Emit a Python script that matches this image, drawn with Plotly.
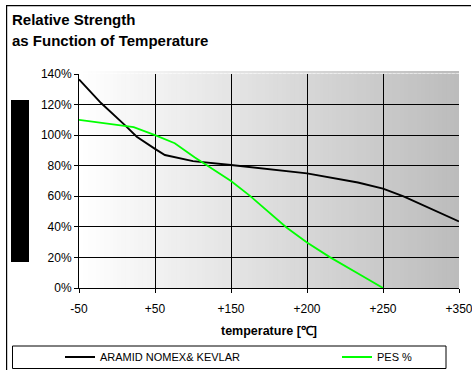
import plotly.graph_objects as go

# ---- data ----
categories = ["-50", "+50", "+150", "+200", "+250", "+350"]
aramid_pos = [0, 0.29, 0.6, 0.76, 1.0, 1.13, 1.5, 2.0, 3.0, 3.67, 4.0, 4.27, 5.0]
aramid_val = [136.5, 121, 106.7, 99, 91, 87, 83, 80.5, 75, 69, 65, 60, 43.5]
pes_pos = [0, 0.29, 0.72, 1.0, 1.26, 1.52, 2.0, 2.25, 2.73, 3.0, 3.3, 3.7, 4.0]
pes_val = [110, 108, 105.3, 100, 94.7, 85.6, 70, 60.3, 39.6, 29.8, 20.2, 8.7, 0]
series_names = ["ARAMID NOMEX& KEVLAR", "PES %"]
y_ticks = [0, 20, 40, 60, 80, 100, 120, 140]

# ---- geometry ----
W, H = 472, 370
ML, MR, MT, MB = 79, 13, 74, 82
PW, PH = W - ML - MR, H - MT - MB


def px(x):
    return (x - ML) / PW


def py(y):
    return (H - MB - y) / PH


FONT = "Liberation Sans, Arial, sans-serif"

fig = go.Figure()
fig.add_trace(go.Scatter(x=aramid_pos, y=aramid_val, mode="lines", name=series_names[0],
                         line=dict(color="#000000", width=1.9), legend="legend"))
fig.add_trace(go.Scatter(x=pes_pos, y=pes_val, mode="lines", name=series_names[1],
                         line=dict(color="#00ff00", width=1.8), legend="legend2"))

shapes = []
# gradient background (white -> gray), drawn under the gridlines
N = 90


def grey(t):
    c = round(255 - t * (255 - 188))
    return f"rgb({c},{c},{c})"


for i in range(N):
    t = i / (N - 1)
    shapes.append(dict(type="rect", xref="x domain", yref="y domain",
                       x0=i / N, x1=min(1, (i + 1) / N + 0.004), y0=0, y1=1,
                       fillcolor=grey(t), line=dict(width=0), layer="below"))
    # thin strip above the top gridline
    shapes.append(dict(type="rect", xref="paper", yref="paper",
                       x0=i / N, x1=min(1, (i + 1) / N + 0.004), y0=1 + 0.6 / PH, y1=1 + 3 / PH,
                       fillcolor=grey(t), line=dict(width=0), layer="below"))
# black box on the left
shapes.append(dict(type="rect", xref="paper", yref="paper", x0=px(11), x1=px(29),
                   y0=py(262), y1=py(100), fillcolor="#000000", line=dict(width=0)))
# outer border (left + top) as thin filled bars
shapes.append(dict(type="rect", xref="paper", yref="paper",
                   x0=px(6), x1=px(7.2), y0=py(370), y1=py(5),
                   fillcolor="#000000", line=dict(width=0)))
shapes.append(dict(type="rect", xref="paper", yref="paper",
                   x0=px(6), x1=px(471), y0=py(6.2), y1=py(5),
                   fillcolor="#000000", line=dict(width=0)))
# legend frame
shapes.append(dict(type="rect", xref="paper", yref="paper", x0=px(12.5), x1=px(446),
                   y0=py(368.5), y1=py(346), fillcolor="rgba(0,0,0,0)",
                   line=dict(color="#000000", width=1)))

annotations = [
    dict(text="<b>Relative Strength</b>", xref="paper", yref="paper", x=px(10), y=py(19),
         xanchor="left", yanchor="middle", showarrow=False,
         font=dict(family=FONT, size=15, color="#000000")),
    dict(text="<b>as Function of Temperature</b>", xref="paper", yref="paper", x=px(10), y=py(40),
         xanchor="left", yanchor="middle", showarrow=False,
         font=dict(family=FONT, size=15, color="#000000")),
]

legend_common = dict(orientation="h", yanchor="middle", xanchor="left",
                     bgcolor="rgba(0,0,0,0)", borderwidth=0,
                     font=dict(family=FONT, size=11, color="#000000"))

fig.update_layout(
    width=W, height=H,
    margin=dict(l=ML, r=MR, t=MT, b=MB, pad=0, autoexpand=False),
    paper_bgcolor="#ffffff", plot_bgcolor="rgba(0,0,0,0)",
    font=dict(family=FONT, size=12, color="#000000"),
    shapes=shapes, annotations=annotations,
    showlegend=True,
    legend=dict(x=px(60), y=py(357), **legend_common),
    legend2=dict(x=px(337), y=py(357), **legend_common),
)
fig.update_xaxes(range=[0, 5], tickvals=list(range(len(categories))), ticktext=categories,
                 showgrid=True, gridcolor="#000000", gridwidth=1,
                 showline=True, linecolor="#000000", linewidth=1,
                 ticks="outside", ticklen=4, tickcolor="#000000", zeroline=False,
                 ticklabeloverflow="allow", automargin=False, ticklabelstandoff=6,
                 tickfont=dict(family=FONT, size=12, color="#000000"),
                 title=dict(text="<b>temperature [℃]</b>", standoff=10,
                            font=dict(family=FONT, size=12.5, color="#000000")))
fig.update_yaxes(range=[0, 140], tickvals=y_ticks, ticktext=[f"{v}%" for v in y_ticks],
                 showgrid=True, gridcolor="#000000", gridwidth=1,
                 showline=True, linecolor="#000000", linewidth=1,
                 ticks="outside", ticklen=4, tickcolor="#000000", zeroline=False,
                 automargin=False,
                 tickfont=dict(family=FONT, size=12, color="#000000"))

fig.write_html(
    "out.html",
    config={"displayModeBar": False},
    post_script="document.documentElement.style.overflow='hidden';"
                "document.body.style.overflow='hidden';document.body.style.margin='0';",
)
